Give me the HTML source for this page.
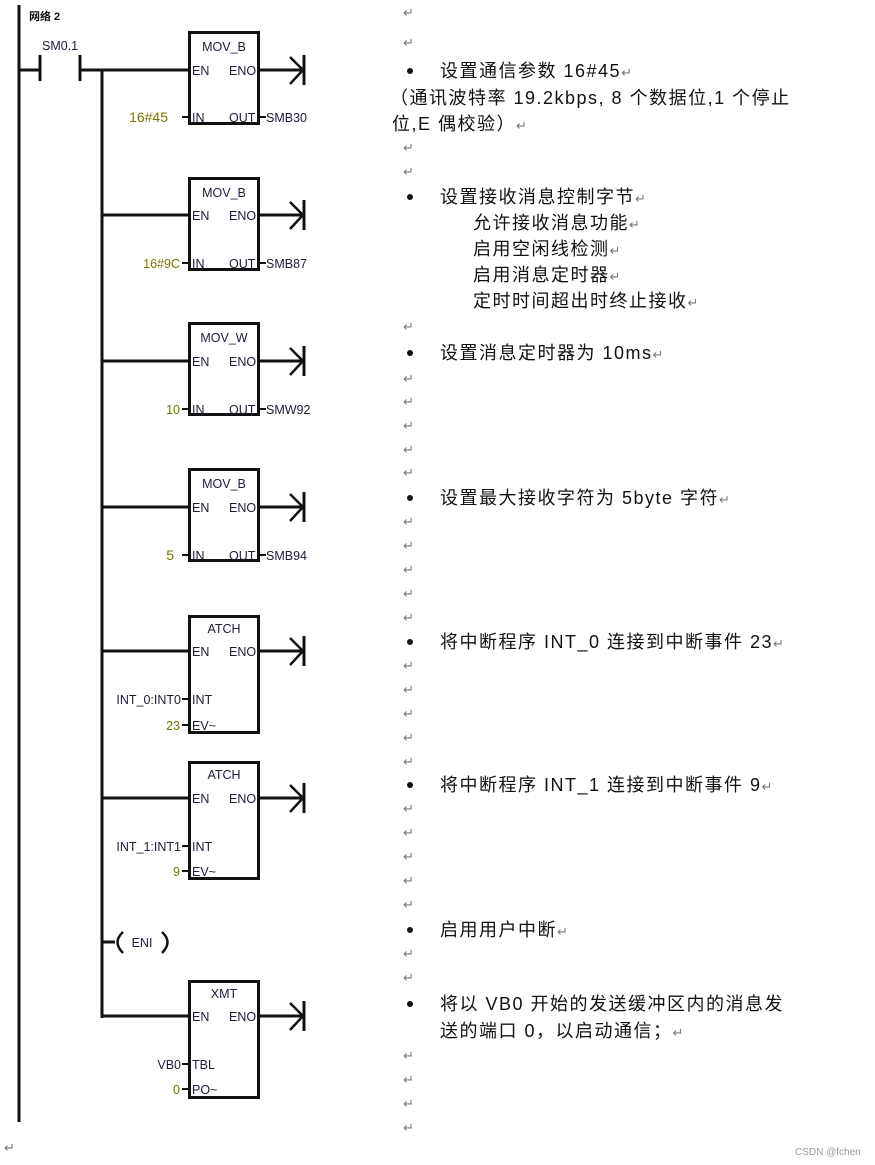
<!DOCTYPE html>
<html><head><meta charset="utf-8"><style>
html,body{margin:0;padding:0;background:#fff;}
svg{display:block}
.b{font-family:"Liberation Sans",sans-serif;font-size:12.5px;fill:#1c1c3c}
.o{font-family:"Liberation Sans",sans-serif;font-size:12.5px;fill:#7a7400}
.t{font-family:"Liberation Sans","Noto Sans CJK SC",sans-serif;font-size:18px;letter-spacing:1.5px;fill:#111}
.r{font-family:"DejaVu Sans",sans-serif;font-size:13px;fill:#777;letter-spacing:0}
</style></head><body>
<svg width="875" height="1165" viewBox="0 0 875 1165" xmlns="http://www.w3.org/2000/svg">
<g stroke="#111" fill="none" stroke-width="3">
<line x1="19" y1="5" x2="19" y2="1122"/>
<line x1="19" y1="70" x2="40" y2="70"/>
<line x1="40" y1="55" x2="40" y2="81"/>
<line x1="80" y1="55" x2="80" y2="81"/>
<line x1="80" y1="70" x2="189" y2="70"/>
<line x1="102" y1="70" x2="102" y2="1018"/>
<rect x="189.5" y="32.5" width="69" height="91"/>
<rect x="189.5" y="178.5" width="69" height="91"/>
<rect x="189.5" y="323.5" width="69" height="91"/>
<rect x="189.5" y="469.5" width="69" height="91"/>
<rect x="189.5" y="616.5" width="69" height="116"/>
<rect x="189.5" y="762.5" width="69" height="116"/>
<rect x="189.5" y="981.5" width="69" height="116"/>
<line x1="102" y1="215" x2="189" y2="215"/>
<line x1="102" y1="361" x2="189" y2="361"/>
<line x1="102" y1="507" x2="189" y2="507"/>
<line x1="102" y1="651" x2="189" y2="651"/>
<line x1="102" y1="798" x2="189" y2="798"/>
<line x1="102" y1="942" x2="115" y2="942"/>
<line x1="102" y1="1016" x2="189" y2="1016"/>
<g id="a">
<line x1="259" y1="70" x2="304" y2="70"/><line x1="304" y1="55" x2="304" y2="85"/><polyline points="290,57 303,70 290,84" stroke-width="2.5"/>
</g>
<use href="#a" y="145"/><use href="#a" y="291"/><use href="#a" y="437"/><use href="#a" y="581"/><use href="#a" y="728"/><use href="#a" y="946"/>
<path d="M123,932 Q112,942 123,953" stroke-width="2.5"/>
<path d="M162,932 Q173,942 162,953" stroke-width="2.5"/>
</g>
<g stroke="#111" stroke-width="2">
<line x1="182" y1="117" x2="189" y2="117"/><line x1="259" y1="117" x2="266" y2="117"/>
<line x1="182" y1="263" x2="189" y2="263"/><line x1="259" y1="263" x2="266" y2="263"/>
<line x1="182" y1="409" x2="189" y2="409"/><line x1="259" y1="409" x2="266" y2="409"/>
<line x1="182" y1="555" x2="189" y2="555"/><line x1="259" y1="555" x2="266" y2="555"/>
<line x1="182" y1="699" x2="189" y2="699"/><line x1="182" y1="725" x2="189" y2="725"/>
<line x1="182" y1="846" x2="189" y2="846"/><line x1="182" y1="871" x2="189" y2="871"/>
<line x1="182" y1="1064" x2="189" y2="1064"/><line x1="182" y1="1089" x2="189" y2="1089"/>
</g>
<text x="29" y="20" style="font-family:'Liberation Sans','Noto Sans CJK SC',sans-serif;font-size:11px;font-weight:bold;fill:#111">网络 2</text>
<text x="42" y="50" class="b">SM0.1</text>
<g class="b">
<text x="224" y="51" text-anchor="middle">MOV_B</text><text x="192" y="75">EN</text><text x="229" y="75">ENO</text><text x="192" y="122">IN</text><text x="229" y="122">OUT</text><text x="266" y="122">SMB30</text>
<text x="224" y="197" text-anchor="middle">MOV_B</text><text x="192" y="220">EN</text><text x="229" y="220">ENO</text><text x="192" y="268">IN</text><text x="229" y="268">OUT</text><text x="266" y="268">SMB87</text>
<text x="224" y="342" text-anchor="middle">MOV_W</text><text x="192" y="366">EN</text><text x="229" y="366">ENO</text><text x="192" y="414">IN</text><text x="229" y="414">OUT</text><text x="266" y="414">SMW92</text>
<text x="224" y="488" text-anchor="middle">MOV_B</text><text x="192" y="512">EN</text><text x="229" y="512">ENO</text><text x="192" y="560">IN</text><text x="229" y="560">OUT</text><text x="266" y="560">SMB94</text>
<text x="224" y="633" text-anchor="middle">ATCH</text><text x="192" y="656">EN</text><text x="229" y="656">ENO</text><text x="192" y="704">INT</text><text x="192" y="730">EV~</text><text x="181" y="704" text-anchor="end">INT_0:INT0</text>
<text x="224" y="779" text-anchor="middle">ATCH</text><text x="192" y="803">EN</text><text x="229" y="803">ENO</text><text x="192" y="851">INT</text><text x="192" y="876">EV~</text><text x="181" y="851" text-anchor="end">INT_1:INT1</text>
<text x="142" y="947" text-anchor="middle">ENI</text>
<text x="224" y="998" text-anchor="middle">XMT</text><text x="192" y="1021">EN</text><text x="229" y="1021">ENO</text><text x="192" y="1069">TBL</text><text x="192" y="1094">PO~</text><text x="181" y="1069" text-anchor="end">VB0</text>
</g>
<g class="o" text-anchor="end">
<text x="168" y="122" style="font-size:14px">16#45</text>
<text x="180" y="268">16#9C</text>
<text x="180" y="414">10</text>
<text x="174" y="560" style="font-size:14px">5</text>
<text x="180" y="730">23</text>
<text x="180" y="876">9</text>
<text x="180" y="1094">0</text>
</g>
<g class="r">
<text x="403" y="17">↵</text><text x="403" y="47">↵</text>
<text x="403" y="152">↵</text><text x="403" y="176">↵</text>
<text x="403" y="331">↵</text>
<text x="403" y="383">↵</text><text x="403" y="406">↵</text><text x="403" y="430">↵</text><text x="403" y="454">↵</text><text x="403" y="477">↵</text>
<text x="403" y="526">↵</text><text x="403" y="550">↵</text><text x="403" y="574">↵</text><text x="403" y="598">↵</text><text x="403" y="622">↵</text>
<text x="403" y="670">↵</text><text x="403" y="694">↵</text><text x="403" y="718">↵</text><text x="403" y="742">↵</text><text x="403" y="766">↵</text>
<text x="403" y="813">↵</text><text x="403" y="837">↵</text><text x="403" y="861">↵</text><text x="403" y="885">↵</text><text x="403" y="909">↵</text>
<text x="403" y="958">↵</text><text x="403" y="982">↵</text>
<text x="403" y="1060">↵</text><text x="403" y="1084">↵</text><text x="403" y="1108">↵</text><text x="403" y="1132">↵</text>
<text x="4" y="1152">↵</text>
</g>
<g fill="#111"><circle cx="410" cy="71" r="3"/><circle cx="410" cy="197" r="3"/><circle cx="410" cy="353" r="3"/><circle cx="410" cy="498" r="3"/><circle cx="410" cy="642" r="3"/><circle cx="410" cy="785" r="3"/><circle cx="410" cy="930" r="3"/><circle cx="410" cy="1004" r="3"/></g>
<g class="t">
<text x="440" y="77">设置通信参数 16#45<tspan class="r">↵</tspan></text>
<text x="390" y="104">（通讯波特率 19.2kbps, 8 个数据位,1 个停止</text>
<text x="392" y="130">位,E 偶校验）<tspan class="r">↵</tspan></text>
<text x="440" y="203">设置接收消息控制字节<tspan class="r">↵</tspan></text>
<text x="473" y="229">允许接收消息功能<tspan class="r">↵</tspan></text>
<text x="473" y="255">启用空闲线检测<tspan class="r">↵</tspan></text>
<text x="473" y="281">启用消息定时器<tspan class="r">↵</tspan></text>
<text x="473" y="307">定时时间超出时终止接收<tspan class="r">↵</tspan></text>
<text x="440" y="359">设置消息定时器为 10ms<tspan class="r">↵</tspan></text>
<text x="440" y="504">设置最大接收字符为 5byte 字符<tspan class="r">↵</tspan></text>
<text x="440" y="648">将中断程序 INT_0 连接到中断事件 23<tspan class="r">↵</tspan></text>
<text x="440" y="791">将中断程序 INT_1 连接到中断事件 9<tspan class="r">↵</tspan></text>
<text x="440" y="936">启用用户中断<tspan class="r">↵</tspan></text>
<text x="440" y="1010">将以 VB0 开始的发送缓冲区内的消息发</text>
<text x="440" y="1037">送的端口 0，以启动通信；<tspan class="r">↵</tspan></text>
</g>
<text x="795" y="1155" style="font-family:'Liberation Sans',sans-serif;font-size:10px;fill:#999">CSDN @fchen</text>
</svg>
</body></html>
